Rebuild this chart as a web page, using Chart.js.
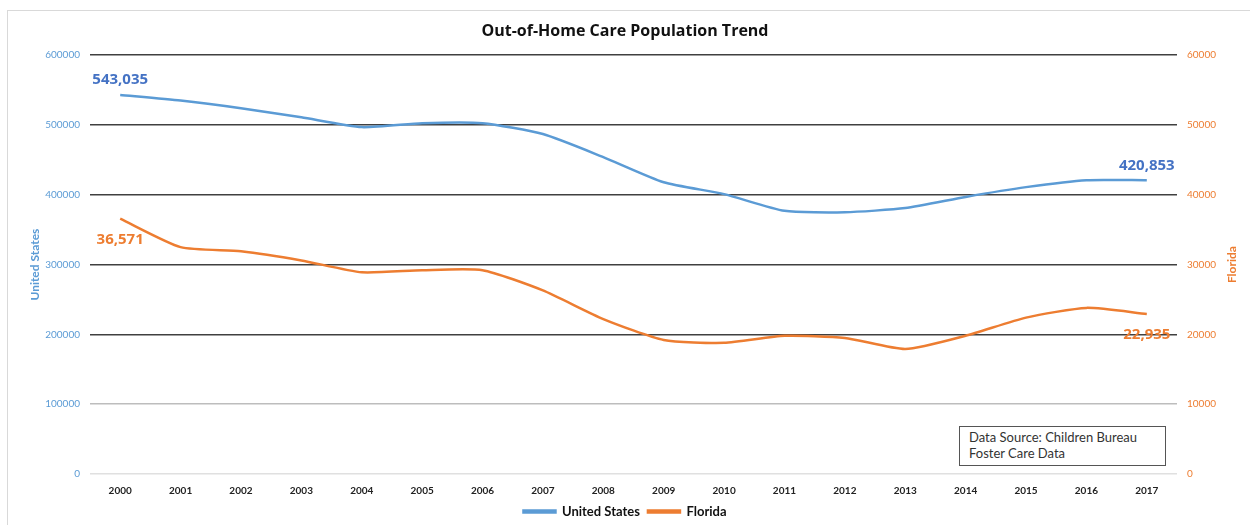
<!DOCTYPE html>
<html>
<head>
<meta charset="utf-8">
<script src="https://cdn.jsdelivr.net/npm/chart.js@4"></script>
<style>
  html, body { margin: 0; padding: 0; background: #fff; }
  #wrap { position: relative; width: 1250px; height: 525px; overflow: hidden; }
  #frame { position: absolute; left: 7px; top: 10px; width: 1250px; height: 530px;
           border-left: 1px solid #d9d9d9; border-top: 1px solid #d9d9d9; }
  #source { position: absolute; left: 959px; top: 426px; width: 196px; height: 36px;
            border: 1px solid #555; background: #fff; padding: 2px 0 0 9px;
            font: 13px Lato, sans-serif; color: #333; line-height: 16px; }
  canvas { position: absolute; left: 0; top: 0; }
</style>
</head>
<body>
<div id="wrap">
  <div id="frame"></div>
  <canvas id="chart" width="1250" height="525"></canvas>
  <div id="source">Data Source: Children Bureau<br>Foster Care Data</div>
</div>
<script>
const years = ['2000','2001','2002','2003','2004','2005','2006','2007','2008',
               '2009','2010','2011','2012','2013','2014','2015','2016','2017'];
const unitedStates = [543035, 535000, 524000, 511000, 497000, 502500, 502500, 487000, 454000,
                      418000, 401000, 377000, 375000, 381000, 397000, 411000, 421000, 420853];
const florida = [36571, 32500, 31900, 30600, 28900, 29200, 29200, 26300, 22200,
                 19200, 18800, 19800, 19500, 17900, 19800, 22400, 23800, 22935];
const usTicks = [0, 100000, 200000, 300000, 400000, 500000, 600000];
const flTicks = [0, 10000, 20000, 30000, 40000, 50000, 60000];

const blue = '#5B9BD5';
const orange = '#ED7D31';

function gridColor(ctx) {
    const v = ctx.tick ? ctx.tick.value : null;
    if (v === 0) return '#e0e0e0';
    if (v === 100000) return '#bdbdbd';
    return '#404040';
}

// end-point labels like the excel data labels, plus the rotated axis titles
const extras = {
    id: 'extras',
    afterDatasetsDraw(chart) {
        const c = chart.ctx;
        c.save();
        c.font = 'bold 15px "Open Sans", sans-serif';
        c.textAlign = 'center';
        c.textBaseline = 'middle';
        chart.data.datasets.forEach((ds, i) => {
            const meta = chart.getDatasetMeta(i);
            const last = ds.data.length - 1;
            [0, last].forEach(idx => {
                const pt = meta.data[idx];
                const txt = ds.data[idx].toLocaleString('en-US');
                c.fillStyle = i === 0 ? '#4472C4' : orange;
                const dy = i === 0 ? -15 : 21;
                c.fillText(txt, pt.x, pt.y + dy);
            });
        });

        const midY = (chart.chartArea.top + chart.chartArea.bottom) / 2;
        c.font = 'bold 12px Lato, sans-serif';
        [['United States', 35, blue], ['Florida', 1232, orange]].forEach(([t, x, col]) => {
            c.save();
            c.translate(x, midY);
            c.rotate(-Math.PI / 2);
            c.fillStyle = col;
            c.fillText(t, 0, 0);
            c.restore();
        });
        c.restore();
    }
};

new Chart(document.getElementById('chart'), {
    type: 'line',
    data: {
        labels: years,
        datasets: [
            { label: 'United States', data: unitedStates, yAxisID: 'y',
              borderColor: blue, backgroundColor: blue, borderWidth: 2.5,
              pointRadius: 0, tension: 0.2 },
            { label: 'Florida', data: florida, yAxisID: 'y1',
              borderColor: orange, backgroundColor: orange, borderWidth: 2.5,
              pointRadius: 0, tension: 0.2 }
        ]
    },
    options: {
        responsive: false,
        animation: false,
        layout: { padding: { top: 10, bottom: -3, left: 0, right: 0 } },
        plugins: {
            title: {
                display: true,
                text: 'Out-of-Home Care Population Trend',
                font: { family: '"Open Sans", sans-serif', size: 16, weight: 'bold' },
                color: '#111',
                padding: { top: 12, bottom: 14 }
            },
            legend: {
                position: 'bottom',
                labels: {
                    font: { family: 'Lato, sans-serif', size: 13, weight: 'bold' },
                    color: '#111',
                    boxWidth: 32, boxHeight: 2, padding: 8
                }
            },
            tooltip: { enabled: false }
        },
        scales: {
            x: {
                offset: true,
                grid: { display: false },
                border: { display: false },
                ticks: { font: { family: 'Lato, sans-serif', size: 10, weight: 'bold' }, color: '#222', maxRotation: 0 },
                afterFit(s) { s.height = 23; }
            },
            y: {
                position: 'left',
                min: 0, max: 600000,
                afterBuildTicks(s) { s.ticks = usTicks.map(v => ({ value: v })); },
                ticks: { font: { family: 'Lato, sans-serif', size: 10 }, color: blue, padding: 10,
                         callback: v => String(v) },
                grid: { color: gridColor, lineWidth: 1.5, drawTicks: false },
                border: { display: false },
                afterFit(s) { s.width = 90; }
            },
            y1: {
                position: 'right',
                min: 0, max: 60000,
                afterBuildTicks(s) { s.ticks = flTicks.map(v => ({ value: v })); },
                ticks: { font: { family: 'Lato, sans-serif', size: 10 }, color: orange, padding: 10,
                         callback: v => String(v) },
                grid: { display: false, drawTicks: false },
                border: { display: false },
                afterFit(s) { s.width = 73; }
            }
        }
    },
    plugins: [extras]
});
</script>
</body>
</html>
